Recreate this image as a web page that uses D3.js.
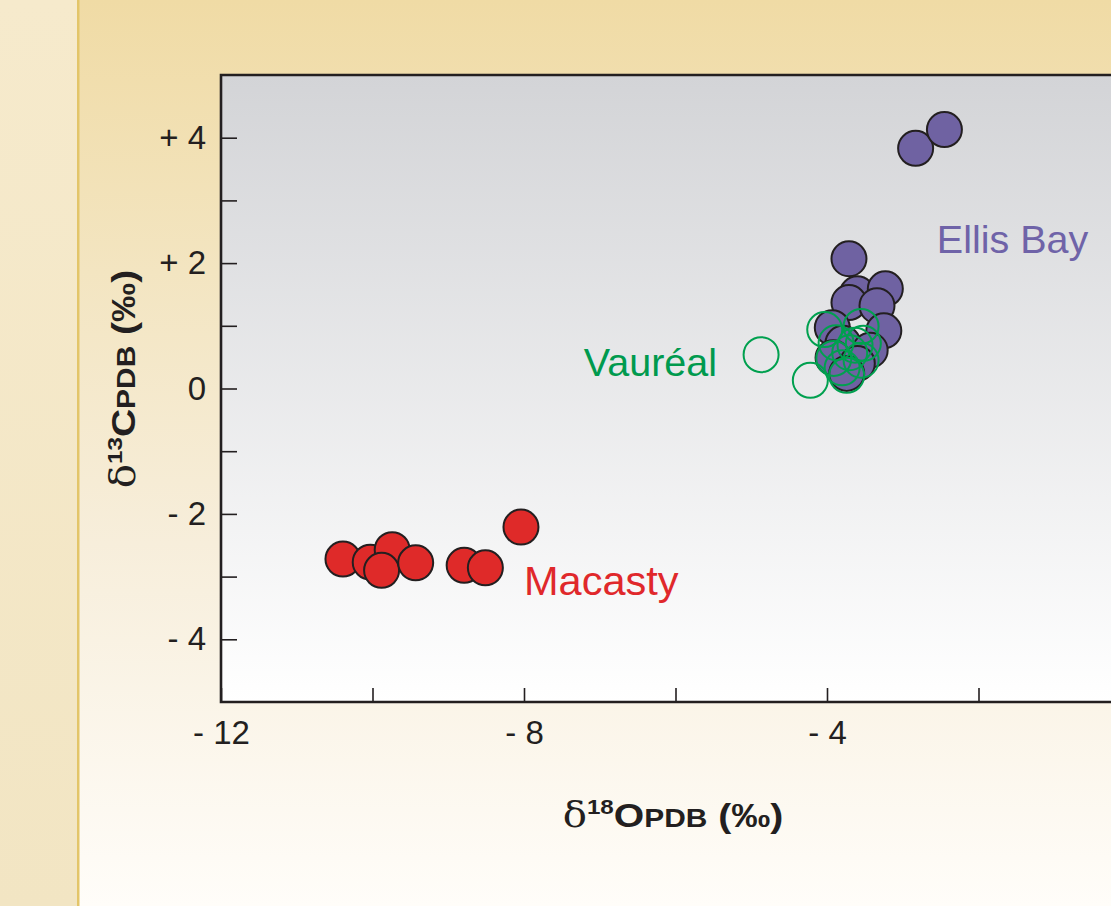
<!DOCTYPE html>
<html>
<head>
<meta charset="utf-8">
<script src="https://cdn.jsdelivr.net/npm/d3@7"></script>
<style>
  html, body { margin: 0; padding: 0; background: #fff; }
  svg { display: block; }
  text { font-family: "Liberation Sans", Arial, Helvetica, sans-serif; }
</style>
</head>
<body>
<div id="chart"></div>
<script>
// ---- data ----
const macastyO = [-10.39, -10.03, -9.74, -9.88, -9.43, -8.79, -8.51, -8.04];
const macastyC = [-2.72, -2.77, -2.57, -2.90, -2.78, -2.82, -2.86, -2.21];

const ellisO = [-2.83, -2.45, -3.71, -3.60, -3.23, -3.71, -3.34, -3.25, -3.93, -3.79, -3.43, -3.92, -3.60, -3.74];
const ellisC = [3.83, 4.13, 2.07, 1.51, 1.59, 1.37, 1.32, 0.92, 0.97, 0.72, 0.61, 0.49, 0.40, 0.24];

const vaurO = [-4.87, -4.22, -4.03, -3.55, -3.88, -3.52, -3.70, -3.91, -3.55, -3.80, -3.74, -3.63];
const vaurC = [0.54, 0.13, 0.94, 0.99, 0.73, 0.72, 0.57, 0.48, 0.45, 0.33, 0.21, 0.69];

const xTicks = [-12, -10, -8, -6, -4, -2];
const xTickLabels = ["- 12", "", "- 8", "", "- 4", ""];
const yTicks = [-4, -3, -2, -1, 0, 1, 2, 3, 4];
const yTickLabels = ["- 4", "", "- 2", "", "0", "", "+ 2", "", "+ 4"];

const seriesNames = ["Macasty", "Vauréal", "Ellis Bay"];

// ---- layout ----
const W = 1111, H = 906;
const svg = d3.select("#chart").append("svg").attr("width", W).attr("height", H);
const defs = svg.append("defs");

const bgGrad = defs.append("linearGradient").attr("id", "bgGrad").attr("x1", 0).attr("y1", 0).attr("x2", 0).attr("y2", 1);
bgGrad.append("stop").attr("offset", "0%").attr("stop-color", "#f0dba5");
bgGrad.append("stop").attr("offset", "30%").attr("stop-color", "#f3e5c1");
bgGrad.append("stop").attr("offset", "60%").attr("stop-color", "#f7eedb");
bgGrad.append("stop").attr("offset", "100%").attr("stop-color", "#fffdf9");

const stripGrad = defs.append("linearGradient").attr("id", "stripGrad").attr("x1", 0).attr("y1", 0).attr("x2", 0).attr("y2", 1);
stripGrad.append("stop").attr("offset", "0%").attr("stop-color", "#f6eacc");
stripGrad.append("stop").attr("offset", "100%").attr("stop-color", "#f2e5c3");

const plotGrad = defs.append("linearGradient").attr("id", "plotGrad").attr("x1", 0).attr("y1", 0).attr("x2", 0).attr("y2", 1);
plotGrad.append("stop").attr("offset", "0%").attr("stop-color", "#d3d4d7");
plotGrad.append("stop").attr("offset", "100%").attr("stop-color", "#ffffff");

svg.append("rect").attr("x", 0).attr("y", 0).attr("width", W).attr("height", H).attr("fill", "url(#bgGrad)");
svg.append("rect").attr("x", 0).attr("y", 0).attr("width", 77).attr("height", H).attr("fill", "url(#stripGrad)");
svg.append("rect").attr("x", 77).attr("y", 0).attr("width", 2.5).attr("height", H).attr("fill", "#e3c569");

const x = d3.scaleLinear().domain([-12, 0]).range([221, 1130]);
const y = d3.scaleLinear().domain([-5, 5]).range([702, 75]);

// plot background
svg.append("rect")
  .attr("x", x(-12)).attr("y", y(5))
  .attr("width", x(0) - x(-12)).attr("height", y(-5) - y(5))
  .attr("fill", "url(#plotGrad)");

// axes
const xAxis = d3.axisBottom(x).tickValues(xTicks)
  .tickFormat((d, i) => xTickLabels[i]).tickSize(-14).tickPadding(19);
const yAxis = d3.axisLeft(y).tickValues(yTicks)
  .tickFormat((d, i) => yTickLabels[i]).tickSize(-16).tickPadding(15);

const gx = svg.append("g").attr("transform", `translate(0,${y(-5)})`).call(xAxis);
const gy = svg.append("g").attr("transform", `translate(${x(-12)},0)`).call(yAxis);
[gx, gy].forEach(g => {
  g.select(".domain").remove();
  g.selectAll(".tick line").attr("stroke", "#231f20").attr("stroke-width", 1.6);
  g.selectAll(".tick text").attr("fill", "#231f20").style("font-size", "33px")
    .style("font-family", '"Liberation Sans", Arial, sans-serif');
});

// frame (left, top, bottom)
svg.append("path")
  .attr("d", `M${x(0) + 5},${y(5)} H${x(-12)} V${y(-5)} H${x(0) + 5}`)
  .attr("fill", "none").attr("stroke", "#231f20").attr("stroke-width", 2.6);

// points
const R = 17.5;
const ellis = ellisO.map((o, i) => ({ o, c: ellisC[i] }));
const macasty = macastyO.map((o, i) => ({ o, c: macastyC[i] }));
const vaur = vaurO.map((o, i) => ({ o, c: vaurC[i] }));

svg.append("g").selectAll("circle").data(ellis).join("circle")
  .attr("cx", d => x(d.o)).attr("cy", d => y(d.c)).attr("r", R)
  .attr("fill", "#6f62a2").attr("stroke", "#231f20").attr("stroke-width", 2);

svg.append("g").selectAll("circle").data(macasty).join("circle")
  .attr("cx", d => x(d.o)).attr("cy", d => y(d.c)).attr("r", R)
  .attr("fill", "#df2a29").attr("stroke", "#231f20").attr("stroke-width", 2);

svg.append("g").selectAll("circle").data(vaur).join("circle")
  .attr("cx", d => x(d.o)).attr("cy", d => y(d.c)).attr("r", R)
  .attr("fill", "none").attr("stroke", "#00a04f").attr("stroke-width", 2);

// series labels
svg.append("text").text(seriesNames[2]).attr("x", x(-2.55)).attr("y", y(2.16))
  .attr("fill", "#6f63a8").style("font-size", "39.5px");
svg.append("text").text(seriesNames[1]).attr("x", x(-7.21)).attr("y", y(0.2))
  .attr("fill", "#009a4e").style("font-size", "39.5px");
svg.append("text").text(seriesNames[0]).attr("x", x(-8.0)).attr("y", y(-3.29))
  .attr("fill", "#e0282b").style("font-size", "41.5px");

// axis titles
function title(sel, iso) {
  sel.attr("fill", "#231f20").style("font-weight", "bold");
  sel.append("tspan").text("δ").style("font-weight", "normal").style("font-size", "35px")
    .style("font-family", '"DejaVu Serif", "Liberation Serif", serif');
  sel.append("tspan").text(iso).style("font-size", "21px").attr("dy", "-13");
  sel.append("tspan").text(iso === "18" ? "O" : "C").style("font-size", "34px").attr("dy", "13");
  sel.append("tspan").text("PDB").style("font-size", "26px");
  sel.append("tspan").text(" (‰)").style("font-size", "34px");
}
svg.append("text").attr("transform", "translate(673,827) scale(1.15,1)")
  .attr("text-anchor", "middle").call(title, "18");
svg.append("text").attr("transform", "translate(135,379) rotate(-90) scale(1.15,1)")
  .attr("text-anchor", "middle").call(title, "13");
</script>
</body>
</html>
